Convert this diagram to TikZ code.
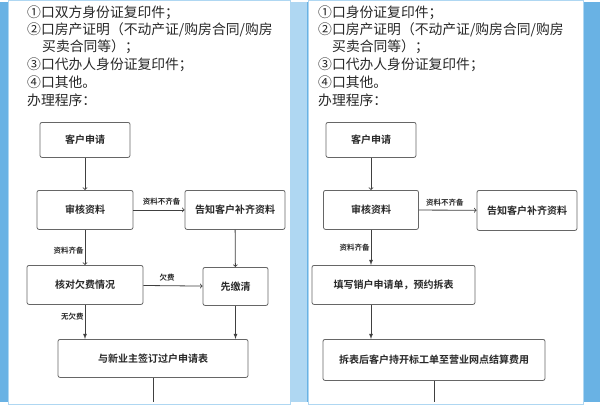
\documentclass[tikz,border=0pt]{standalone}
\usepackage{fontspec}
\setmainfont{Noto Sans CJK SC}
\newfontfamily\cjk{Noto Sans CJK SC}
\newfontfamily\cjkbold{Noto Sans CJK SC Bold}
\definecolor{bgblue}{RGB}{105,178,228}
\definecolor{stripblue}{RGB}{175,215,242}
\definecolor{txt}{RGB}{40,40,40}
\begin{document}
\begin{tikzpicture}
		[x=1pt,y=-1pt,
		box/.style= {draw=black!60,thick,rounded corners=2pt,fill=white,text=txt,font=\cjkbold\fontsize{10}{12}\selectfont,inner sep=0pt},
		lab/.style= {text=txt,font=\cjkbold\fontsize{7.5}{8}\selectfont,inner sep=1pt},
		line/.style= {anchor=west,text=txt,font=\cjk\fontsize{13.8}{15}\selectfont,inner sep=0pt},
		arr/.style= {-latex,thick,draw=black!75}]

		% background and panels
		\fill[bgblue] (0,0) rectangle (600,400);
		\fill[stripblue] (291,0) rectangle (307,400);
		\fill[white,draw=stripblue,thick] (8,-2) rectangle (290,402);
		\fill[white,draw=stripblue,thick] (308,-2) rectangle (583,402);
		\useasboundingbox (0,0) rectangle (600,400);

		% left panel text
		\node[line] (l1) at (27,10) {①口双方身份证复印件；};
		\node[line] (l2) at (27,27) {②口房产证明（不动产证/购房合同/购房};
		\node[line] (l3) at (42,44) {买卖合同等）；};
		\node[line] (l4) at (27,62) {③口代办人身份证复印件；};
		\node[line] (l5) at (27,80) {④口其他。};
		\node[line] (l6) at (27,98) {办理程序：};

		% left flow
		\node[box,minimum width=90,minimum height=35] (a1) at (85,137.5) {客户申请};
		\node[box,minimum width=96,minimum height=39] (a2) at (85,207.5) {审核资料}
			edge [arr,<-] (a1)
		;
		\node[box,minimum width=100,minimum height=39] (a3) at (235,207.5) {告知客户补齐资料}
			edge [arr,<-] node[lab,above=3pt,pos=0.45] {资料不齐备} (a2)
		;
		\node[box,minimum width=116,minimum height=39] (a4) at (85,282.5) {核对欠费情况}
			edge [arr,<-] node[lab,left,pos=0.4] {资料齐备} (a2)
		;
		\node[box,minimum width=65,minimum height=38] (a5) at (235.5,284) {先缴清}
			edge [arr,<-] node[lab,above=3pt,pos=0.6] {欠费} (a4)
			edge [arr,<-] (a3)
		;
		\node[box,minimum width=190,minimum height=38] (a6) at (153,356) {与新业主签订过户申请表};
		\draw[arr] (a4.south) -- node[lab,left,pos=0.35] {无欠费} (a4.south |- a6.north);
		\draw[arr] (a5.south) -- (a5.south |- a6.north);
		\coordinate (a7) at (153,400);
		\draw[thick,black!75] (a6) -- (a7);

		% right panel text
		\node[line] (r1) at (318,10) {①口身份证复印件；};
		\node[line] (r2) at (318,27) {②口房产证明（不动产证/购房合同/购房};
		\node[line] (r3) at (332,44) {买卖合同等）；};
		\node[line] (r4) at (318,62) {③口代办人身份证复印件；};
		\node[line] (r5) at (318,80) {④口其他。};
		\node[line] (r6) at (318,98) {办理程序：};

		% right flow
		\node[box,minimum width=90,minimum height=35] (b1) at (371,137.5) {客户申请};
		\node[box,minimum width=95,minimum height=39] (b2) at (371,207.5) {审核资料}
			edge [arr,<-] (b1)
		;
		\node[box,minimum width=100,minimum height=40] (b3) at (527,208) {告知客户补齐资料}
			edge [arr,<-] node[lab,above=3pt,pos=0.55] {资料不齐备} (b2)
		;
		\node[box,minimum width=163,minimum height=39] (b4) at (393.5,282.5) {填写销户申请单，预约拆表};
		\draw[arr] (b2.south) -- node[lab,left,pos=0.5] {资料齐备} (b2.south |- b4.north);
		\node[box,minimum width=222,minimum height=41] (b5) at (434,357.5) {拆表后客户持开标工单至营业网点结算费用};
		\draw[arr] (b2.south |- b4.south) -- (b2.south |- b5.north);
		\coordinate (b6) at (434,400);
		\draw[thick,black!75] (b5) -- (b6);
	\end{tikzpicture}
\end{document}
